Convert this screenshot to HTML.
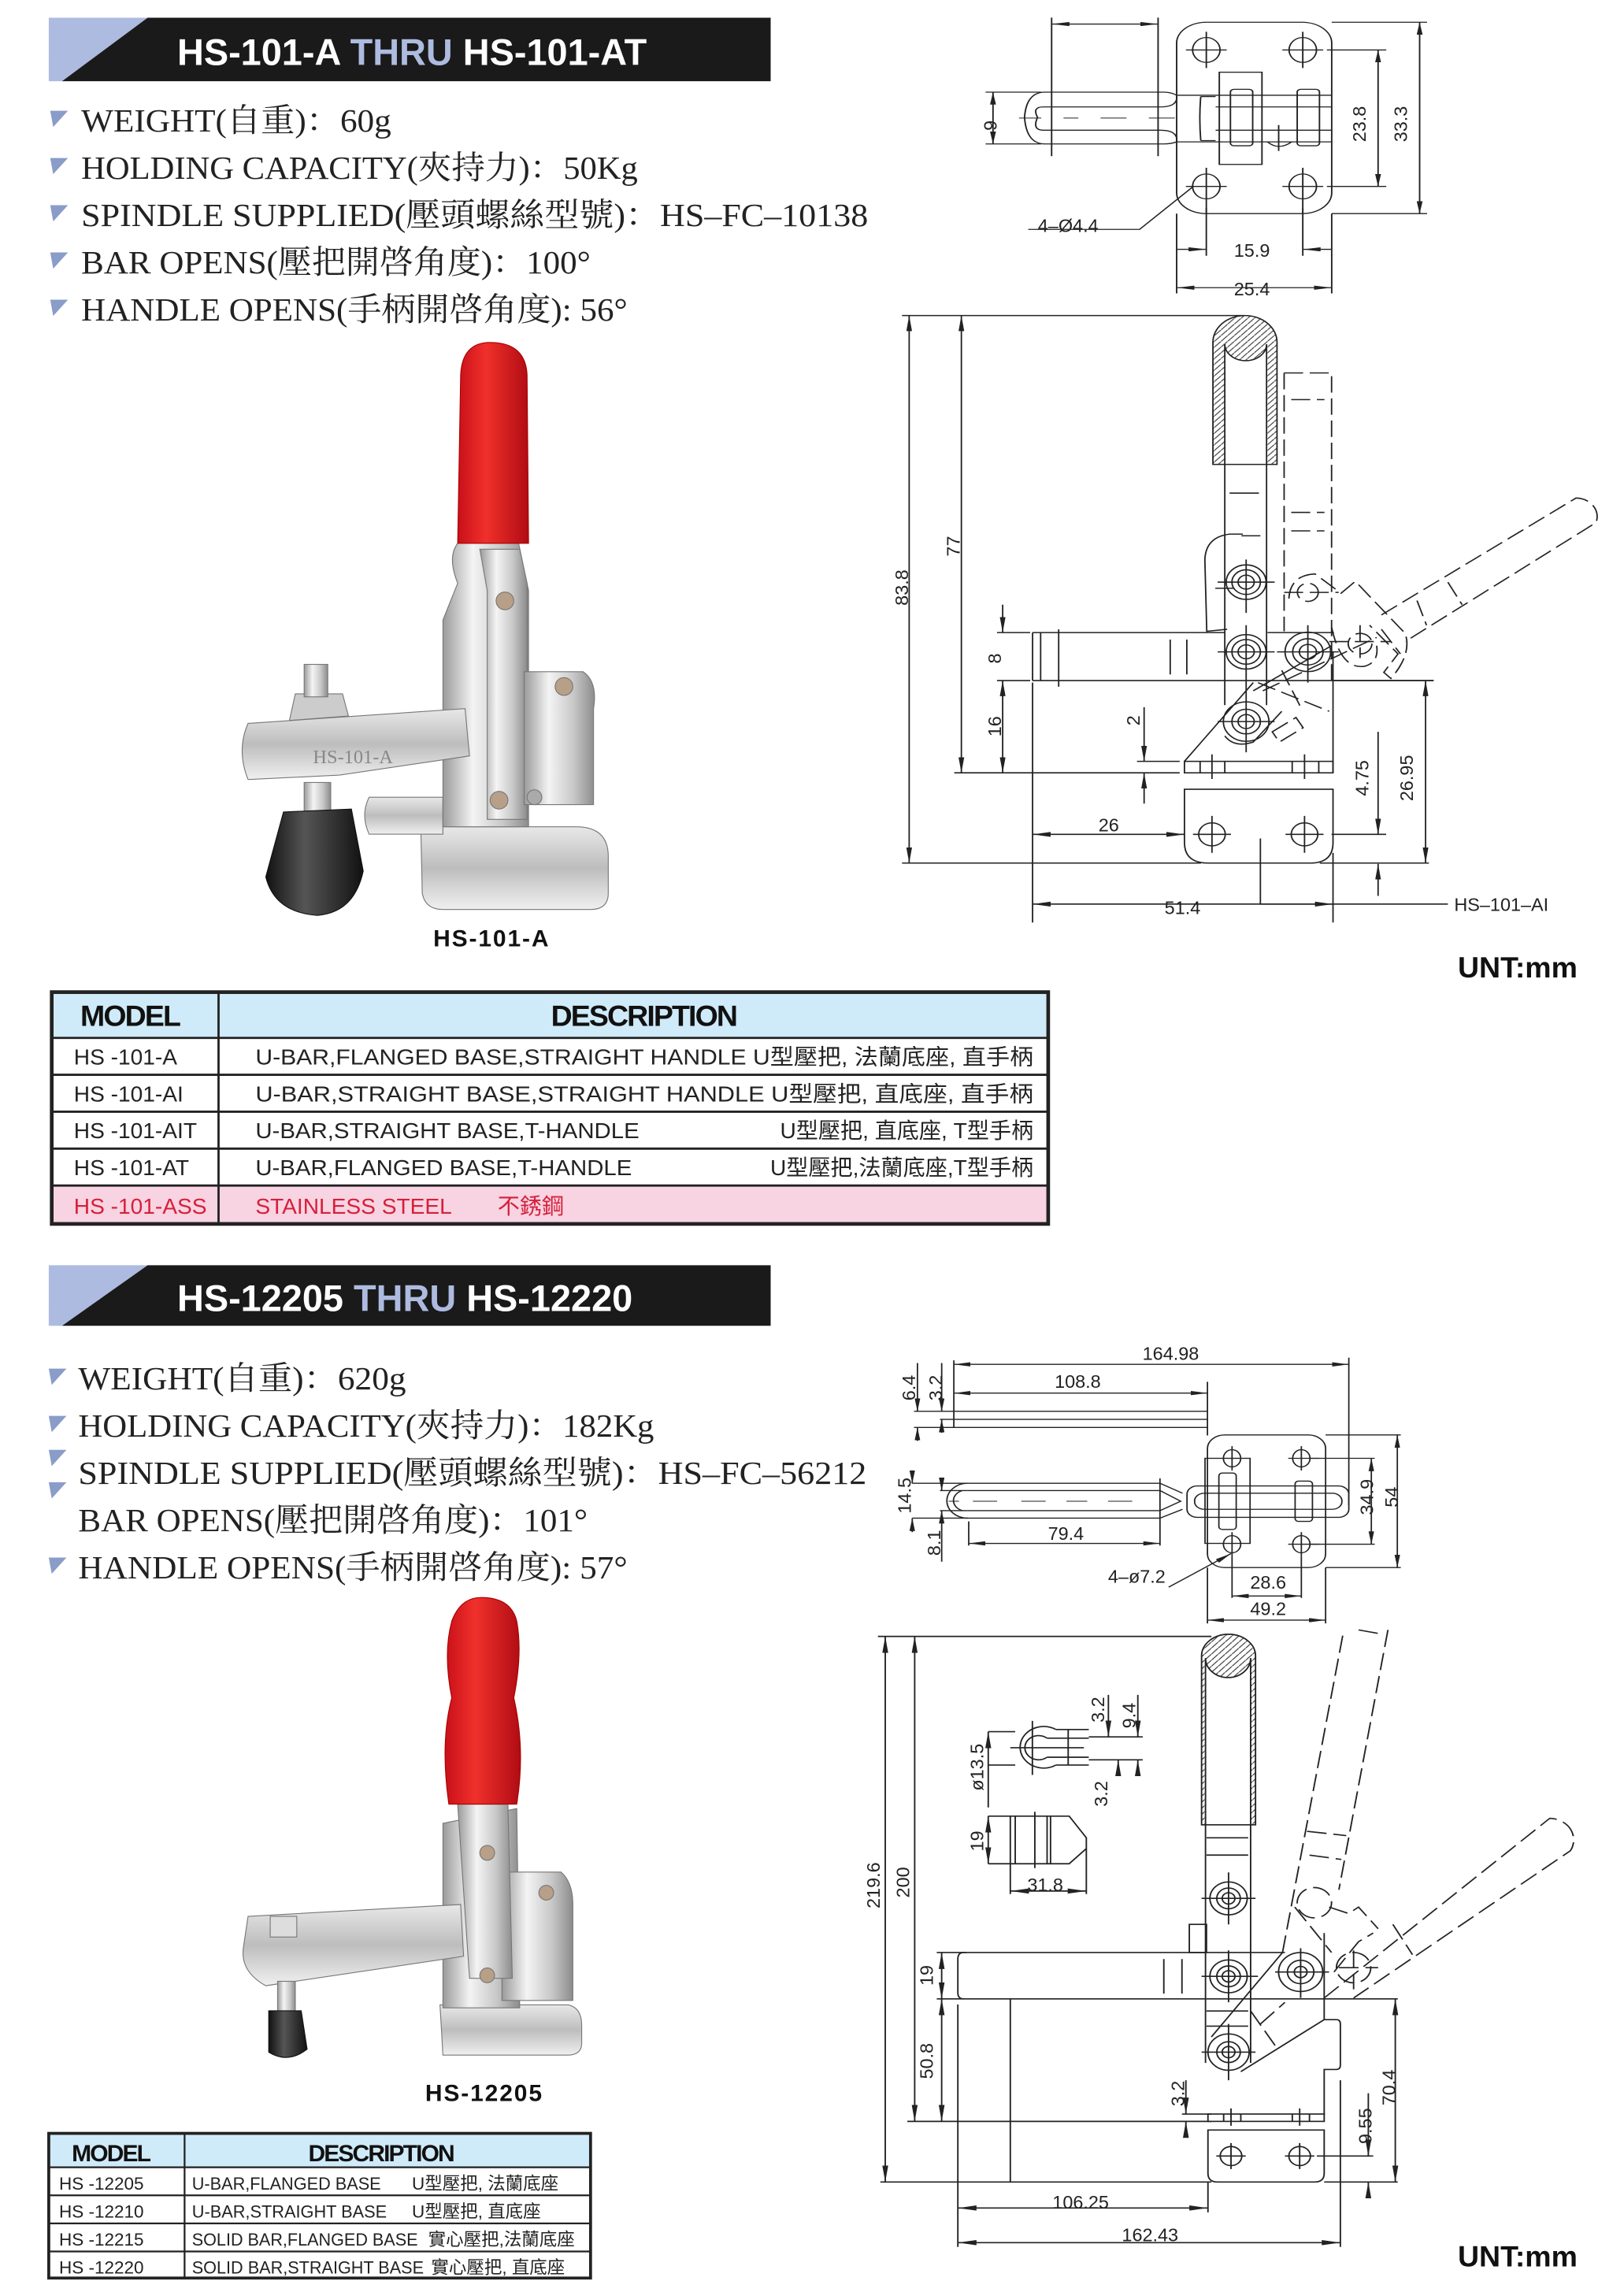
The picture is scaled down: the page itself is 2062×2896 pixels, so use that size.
<!DOCTYPE html>
<html><head><meta charset="utf-8"><style>
html,body{margin:0;padding:0;background:#fff}
svg{display:block}
.sp{font-family:"Liberation Serif","Noto Serif CJK SC",serif;font-size:22px;fill:#222}
.dm{font-family:"Liberation Sans",sans-serif;font-size:12.5px;fill:#222}
.tt{font-family:"Liberation Sans",sans-serif;font-weight:bold;font-size:25px;fill:#fff}
.tb{font-family:"Liberation Sans","Noto Sans CJK TC",sans-serif;font-size:15px;fill:#222}
.tb2{font-family:"Liberation Sans","Noto Sans CJK TC",sans-serif;font-size:12px;fill:#222}
.hd{font-family:"Liberation Sans",sans-serif;font-weight:bold;fill:#111}
</style></head><body>
<svg width="2062" height="2896" viewBox="0 0 1100 1545" xmlns="http://www.w3.org/2000/svg">
<defs>
<marker id="a3" markerUnits="userSpaceOnUse" markerWidth="38" markerHeight="12" refX="38" refY="6" orient="auto-start-reverse"><path d="M0,0 L38,6 L0,12z" fill="#222"/></marker>
<marker id="a5" markerUnits="userSpaceOnUse" markerWidth="48" markerHeight="16" refX="48" refY="8" orient="auto-start-reverse"><path d="M0,0 L48,8 L0,16z" fill="#222"/></marker>
<pattern id="ht" patternUnits="userSpaceOnUse" width="14" height="14"><path d="M0,14 L14,0" stroke="#333" stroke-width="2"/></pattern>
<linearGradient id="sv" x1="0" x2="1"><stop offset="0" stop-color="#9a9a9a"/><stop offset=".35" stop-color="#f4f4f4"/><stop offset=".7" stop-color="#c8c8c8"/><stop offset="1" stop-color="#8c8c8c"/></linearGradient>
<linearGradient id="svv" x1="0" y1="0" x2="0" y2="1"><stop offset="0" stop-color="#e8e8e8"/><stop offset=".5" stop-color="#bdbdbd"/><stop offset="1" stop-color="#f0f0f0"/></linearGradient>
<linearGradient id="rd" x1="0" x2="1"><stop offset="0" stop-color="#c8101a"/><stop offset=".4" stop-color="#f0302a"/><stop offset="1" stop-color="#b00c14"/></linearGradient>
<linearGradient id="bk" x1="0" x2="1"><stop offset="0" stop-color="#111"/><stop offset=".4" stop-color="#555"/><stop offset="1" stop-color="#111"/></linearGradient>
</defs>

<!-- ===== Section 1 title ===== -->
<polygon points="33,12 100,12 42,55 33,55" fill="#aebbe0"/>
<polygon points="100,12 522,12 522,55 42,55" fill="#1a1a1a"/>
<text x="120" y="44" class="tt">HS-101-A <tspan fill="#aebbe0">THRU</tspan> HS-101-AT</text>

<g fill="#8a9cc8">
<polygon points="34,75 46,75 36,86"/><polygon points="34,107 46,107 36,118"/><polygon points="34,139 46,139 36,150"/><polygon points="34,171 46,171 36,182"/><polygon points="34,203 46,203 36,214"/>
</g>
<text class="sp" x="55" y="89" textLength="210" lengthAdjust="spacingAndGlyphs">WEIGHT(自重)：60g</text>
<text class="sp" x="55" y="121" textLength="377" lengthAdjust="spacingAndGlyphs">HOLDING CAPACITY(夾持力)：50Kg</text>
<text class="sp" x="55" y="153" textLength="533" lengthAdjust="spacingAndGlyphs">SPINDLE SUPPLIED(壓頭螺絲型號)：HS–FC–10138</text>
<text class="sp" x="55" y="185" textLength="345" lengthAdjust="spacingAndGlyphs">BAR OPENS(壓把開啓角度)：100°</text>
<text class="sp" x="55" y="217" textLength="370" lengthAdjust="spacingAndGlyphs">HANDLE OPENS(手柄開啓角度): 56°</text>

<!-- Photo 1 -->
<g stroke="#777" stroke-width="0.6">
<path d="M285,560 L390,560 Q412,560 412,580 L412,605 Q412,616 400,616 L300,616 Q288,616 286,605 Z" fill="url(#svv)"/>
<path d="M250,540 L300,540 L300,565 L250,565 Q244,552 250,540Z" fill="url(#svv)"/>
<path d="M310,395 Q300,370 318,362 L350,362 L358,400 L358,560 L300,560 L300,420Z" fill="url(#sv)"/>
<path d="M325,372 L352,372 L357,395 L357,555 L330,555 L330,400Z" fill="url(#sv)"/>
<path d="M355,455 L395,455 Q405,462 402,480 L402,545 L355,545Z" fill="url(#sv)"/>
<path d="M168,490 L315,480 L318,512 L230,525 L168,528 Q160,508 168,490Z" fill="url(#svv)"/>
<path d="M200,470 L232,470 L236,485 L196,488Z" fill="#ccc"/>
<rect x="206" y="450" width="16" height="22" fill="url(#sv)"/>
<rect x="206" y="530" width="18" height="22" fill="url(#sv)"/>
<path d="M192,550 L238,548 L246,590 Q240,618 215,620 Q186,618 180,594Z" fill="url(#bk)" stroke="#111"/>
<circle cx="342" cy="407" r="6" fill="#b89f88"/><circle cx="382" cy="465" r="6" fill="#b89f88"/><circle cx="338" cy="542" r="6" fill="#b89f88"/><circle cx="362" cy="540" r="5" fill="#aaa"/>
<path d="M310,368 L312,254 Q313,232 332,232 Q356,232 357,254 L358,368Z" fill="url(#rd)" stroke="#a00"/>
</g>
<text x="212" y="517" font-family="Liberation Serif,serif" font-size="13" fill="#888">HS-101-A</text>
<text x="333" y="641" class="hd" font-size="16" text-anchor="middle" letter-spacing="1">HS-101-A</text>

<!-- Top view drawing 1 (zoom5 coords) -->
<g transform="matrix(0.2513,0,0,0.1754,632.4,-3)" fill="none" stroke="#222" stroke-width="4">
<rect x="655" y="103" width="418" height="739" rx="80" ry="80"/>
<ellipse cx="735" cy="210" rx="37" ry="48"/><ellipse cx="995" cy="210" rx="37" ry="48"/><ellipse cx="735" cy="737" rx="37" ry="48"/><ellipse cx="995" cy="737" rx="37" ry="48"/>
<path d="M680,210H790M735,140V280M940,210H1050M995,140V280M680,737H790M735,665V845M940,737H1050M995,665V845"/>
<rect x="770" y="296" width="115" height="356"/>
<path d="M655,385H1073M655,565H1073M760,430H1073M760,520H1073"/>
<rect x="800" y="362" width="60" height="218" rx="10"/><rect x="980" y="362" width="60" height="218" rx="10"/>
<path d="M900,565 Q930,600 965,565 M930,500V600"/>
<path d="M655,385 Q660,430 610,430 L295,430 Q265,430 280,470 Q265,520 295,520 L610,520 Q660,520 655,565"/>
<path d="M655,385 Q640,373 620,373 L300,373 Q250,373 245,470 Q250,573 300,573 L620,573 Q640,573 655,565"/>
<path d="M720,390 Q715,470 720,560 M720,390 H760 M720,560 H760"/>
<path d="M230,473H290M350,473H390M450,473H520M580,473H650" stroke-width="3"/>
<path d="M140,373H290M140,573H290M318,85V620M605,85V620"/>
<line x1="160" y1="373" x2="160" y2="573" marker-start="url(#a5)" marker-end="url(#a5)"/>
<line x1="318" y1="110" x2="605" y2="110" marker-start="url(#a5)" marker-end="url(#a5)"/>
<path d="M1060,210H1220M1060,737H1220M1073,103H1330M1073,842H1330"/>
<line x1="1198" y1="210" x2="1198" y2="737" marker-start="url(#a5)" marker-end="url(#a5)"/>
<line x1="1310" y1="103" x2="1310" y2="842" marker-start="url(#a5)" marker-end="url(#a5)"/>
<path d="M735,820V1005M995,820V1005M655,842V1150M1073,842V1150"/>
<line x1="655" y1="980" x2="735" y2="980" marker-end="url(#a5)"/>
<line x1="1073" y1="980" x2="995" y2="980" marker-end="url(#a5)"/>
<line x1="655" y1="1128" x2="1073" y2="1128" marker-start="url(#a5)" marker-end="url(#a5)"/>
<path d="M700,737 L555,903 L255,903"/>
</g>
<text class="dm" transform="translate(675,85) rotate(-90)" text-anchor="middle">9</text>
<text class="dm" transform="translate(925,84) rotate(-90)" text-anchor="middle">23.8</text>
<text class="dm" transform="translate(953,84) rotate(-90)" text-anchor="middle">33.3</text>
<text class="dm" x="703" y="157">4–Ø4.4</text>
<text class="dm" x="848" y="174" text-anchor="middle">15.9</text>
<text class="dm" x="848" y="200" text-anchor="middle">25.4</text>

<!-- Side view drawing 1 (zoom3 coords) -->
<g transform="matrix(0.3215,0,0,0.2778,611,204)" fill="none" stroke="#222" stroke-width="3">
<line x1="15" y1="35" x2="15" y2="1370" marker-start="url(#a3)" marker-end="url(#a3)"/>
<path d="M0,35H720M0,1370H630M880,1370H1110M110,1150H585M200,808H270M200,925H270"/>
<line x1="125" y1="35" x2="125" y2="1150" marker-start="url(#a3)" marker-end="url(#a3)"/>
<line x1="212" y1="740" x2="212" y2="808" marker-end="url(#a3)"/>
<line x1="212" y1="925" x2="212" y2="1150" marker-start="url(#a3)" marker-end="url(#a3)"/>
<path d="M275,808H680M770,808H910M275,925H1120M275,808V925M292,808V925M330,800V940M565,825V910M600,825V910"/>
<path d="M655,398V100A67.5,65 0 0 1 790,100V398ZM680,398V105A44,40 0 0 0 768,105V398Z" fill="url(#ht)" fill-rule="evenodd"/>
<path d="M680,398V985M768,398V985M690,468H752M715,572H755"/>
<path d="M718,568H690Q640,575 638,630L642,805L685,800M660,700H700"/>
<g>
<circle cx="725" cy="685" r="42"/><circle cx="725" cy="685" r="30"/><circle cx="725" cy="685" r="17"/>
<circle cx="725" cy="855" r="42"/><circle cx="725" cy="855" r="30"/><circle cx="725" cy="855" r="17"/>
<circle cx="725" cy="1025" r="48"/><circle cx="725" cy="1025" r="30"/><circle cx="725" cy="1025" r="17"/>
<circle cx="855" cy="855" r="48"/><circle cx="855" cy="855" r="32"/><circle cx="855" cy="855" r="18"/>
<path d="M665,685H785M725,630V760M665,855H785M725,790V960M665,1025H785M725,960V1100M790,855H920M855,790V930"/>
</g>
<g stroke-dasharray="40 14">
<path d="M805,175H905V925M805,175V805M820,240H890M820,515H890M820,560H890"/>
<circle cx="855" cy="710" r="22"/><circle cx="965" cy="835" r="25"/>
<path d="M815,725Q818,668 870,665L925,712L955,683L1060,810Q1075,860 1030,920L1015,905L1045,860L985,790"/>
<path d="M1010,765L1420,480A45,45 0 0 1 1462,540L1060,830M1010,800L1050,860M1085,730L1105,790M1150,685L1180,740M760,950L1000,820M750,930L900,1000M800,900L840,990"/>
<path d="M780,1050L830,1015L845,1040L795,1075Z"/>
<path d="M905,795Q925,900 975,890Q1005,880 1000,840M900,830H1030M965,790V870M805,710H920"/>
</g>
<path d="M595,1122L740,930M740,950L905,840M680,1060Q700,1090 740,1075L800,1000"/>
<rect x="595" y="1122" width="313" height="28"/>
<path d="M628,1122V1150M653,1105V1165M680,1122V1150M822,1122V1150M848,1105V1165M878,1122V1150M908,855V1150"/>
<path d="M595,1190H908V1320Q908,1370 860,1370H645Q595,1370 595,1320Z"/>
<circle cx="653" cy="1300" r="28"/><circle cx="848" cy="1300" r="28"/>
<path d="M613,1300H693M653,1255V1345M808,1300H888M848,1255V1345"/>
<path d="M755,1310V1470H1150M275,930V1515M908,1345V1515M905,1300H1020M910,925H1120M495,1122H585"/>
<line x1="275" y1="1300" x2="595" y2="1300" marker-start="url(#a3)" marker-end="url(#a3)"/>
<line x1="275" y1="1470" x2="908" y2="1470" marker-start="url(#a3)" marker-end="url(#a3)"/>
<line x1="1103" y1="925" x2="1103" y2="1370" marker-start="url(#a3)" marker-end="url(#a3)"/>
<line x1="1003" y1="1050" x2="1003" y2="1300" marker-end="url(#a3)"/>
<line x1="1003" y1="1450" x2="1003" y2="1372" marker-end="url(#a3)"/>
<line x1="510" y1="990" x2="510" y2="1122" marker-end="url(#a3)"/>
<line x1="510" y1="1225" x2="510" y2="1150" marker-end="url(#a3)"/>
</g>
<text class="dm" transform="translate(615,398) rotate(-90)" text-anchor="middle">83.8</text>
<text class="dm" transform="translate(650,370) rotate(-90)" text-anchor="middle">77</text>
<text class="dm" transform="translate(678,446) rotate(-90)" text-anchor="middle">8</text>
<text class="dm" transform="translate(678,492) rotate(-90)" text-anchor="middle">16</text>
<text class="dm" transform="translate(772,488) rotate(-90)" text-anchor="middle">2</text>
<text class="dm" transform="translate(927,527) rotate(-90)" text-anchor="middle">4.75</text>
<text class="dm" transform="translate(957,527) rotate(-90)" text-anchor="middle">26.95</text>
<text class="dm" x="751" y="563" text-anchor="middle">26</text>
<text class="dm" x="801" y="619" text-anchor="middle">51.4</text>
<text class="dm" x="985" y="617">HS–101–AI</text>
<text x="1028" y="662" class="hd" font-size="20" text-anchor="middle">UNT:mm</text>

<!-- Table 1 -->
<rect x="35" y="672" width="675" height="31" fill="#cfeaf8"/>
<rect x="35" y="803" width="675" height="25" fill="#f8d3e2"/>
<g stroke="#222" fill="none">
<rect x="35" y="672" width="675" height="157" stroke-width="2.5"/>
<path d="M35,703H710M35,728H710M35,753H710M35,778H710M35,803H710M148,672V829" stroke-width="1.5"/>
</g>
<text x="88" y="695" class="hd" font-size="20" text-anchor="middle" letter-spacing="-1">MODEL</text>
<text x="436" y="695" class="hd" font-size="20" text-anchor="middle" letter-spacing="-1">DESCRIPTION</text>
<g class="tb">
<text x="50" y="721" class="tb">HS -101-A</text>
<text x="50" y="746" class="tb">HS -101-AI</text>
<text x="50" y="771" class="tb">HS -101-AIT</text>
<text x="50" y="796" class="tb">HS -101-AT</text>
<text x="50" y="822" class="tb" fill="#d5203a" style="fill:#d5203a">HS -101-ASS</text>
<text x="173" y="721" class="tb" textLength="527" lengthAdjust="spacingAndGlyphs">U-BAR,FLANGED BASE,STRAIGHT HANDLE U型壓把, 法蘭底座, 直手柄</text>
<text x="173" y="746" class="tb" textLength="527" lengthAdjust="spacingAndGlyphs">U-BAR,STRAIGHT BASE,STRAIGHT HANDLE U型壓把, 直底座,  直手柄</text>
<text x="173" y="771" class="tb" textLength="260" lengthAdjust="spacingAndGlyphs">U-BAR,STRAIGHT BASE,T-HANDLE</text>
<text x="700" y="771" class="tb" text-anchor="end">U型壓把, 直底座, T型手柄</text>
<text x="173" y="796" class="tb" textLength="255" lengthAdjust="spacingAndGlyphs">U-BAR,FLANGED BASE,T-HANDLE</text>
<text x="700" y="796" class="tb" text-anchor="end">U型壓把,法蘭底座,T型手柄</text>
<text x="173" y="822" class="tb" style="fill:#d5203a">STAINLESS STEEL</text>
<text x="337" y="822" class="tb" style="fill:#d5203a">不銹鋼</text>
</g>

<!-- ===== Section 2 title ===== -->
<polygon points="33,857 100,857 42,898 33,898" fill="#aebbe0"/>
<polygon points="100,857 522,857 522,898 42,898" fill="#1a1a1a"/>
<text x="120" y="888" class="tt">HS-12205 <tspan fill="#aebbe0">THRU</tspan> HS-12220</text>

<g fill="#8a9cc8">
<polygon points="33,927 45,927 35,938"/><polygon points="33,959 45,959 35,970"/><polygon points="33,982 45,982 35,993"/><polygon points="33,1004 45,1004 35,1015"/><polygon points="33,1055 45,1055 35,1066"/>
</g>
<text class="sp" x="53" y="941" textLength="222" lengthAdjust="spacingAndGlyphs">WEIGHT(自重)：620g</text>
<text class="sp" x="53" y="973" textLength="390" lengthAdjust="spacingAndGlyphs">HOLDING CAPACITY(夾持力)：182Kg</text>
<text class="sp" x="53" y="1005" textLength="534" lengthAdjust="spacingAndGlyphs">SPINDLE SUPPLIED(壓頭螺絲型號)：HS–FC–56212</text>
<text class="sp" x="53" y="1037" textLength="345" lengthAdjust="spacingAndGlyphs">BAR OPENS(壓把開啓角度)：101°</text>
<text class="sp" x="53" y="1069" textLength="372" lengthAdjust="spacingAndGlyphs">HANDLE OPENS(手柄開啓角度): 57°</text>

<!-- Photo 2 -->
<g stroke="#777" stroke-width="0.6">
<path d="M298,1358 L385,1358 Q394,1360 394,1372 L394,1384 Q394,1392 384,1392 L300,1392Z" fill="url(#svv)"/>
<path d="M300,1235 L350,1225 L352,1360 L300,1360Z" fill="url(#sv)"/>
<path d="M340,1268 L380,1268 Q388,1275 388,1290 L388,1355 L340,1355Z" fill="url(#sv)"/>
<path d="M168,1298 L312,1290 L314,1325 L180,1345 Q162,1335 165,1318Z" fill="url(#svv)"/>
<rect x="183" y="1298" width="18" height="14" fill="#ddd"/>
<rect x="188" y="1342" width="12" height="22" fill="url(#sv)"/>
<path d="M182,1362 L204,1362 L208,1388 Q195,1398 182,1390Z" fill="url(#bk)" stroke="#111"/>
<path d="M310,1222 L344,1222 L347,1340 L318,1340Z" fill="url(#sv)"/>
<circle cx="330" cy="1255" r="5" fill="#b89f88"/><circle cx="330" cy="1338" r="5" fill="#b89f88"/><circle cx="370" cy="1282" r="5" fill="#b89f88"/>
<path d="M304,1222 Q298,1180 306,1150 Q300,1120 306,1098 Q312,1082 326,1082 Q346,1082 350,1098 Q354,1120 348,1150 Q356,1185 350,1222Z" fill="url(#rd)" stroke="#a00"/>
</g>
<text x="328" y="1423" class="hd" font-size="16" text-anchor="middle" letter-spacing="1">HS-12205</text>

<!-- Top view drawing 2 (zoom6 coords) -->
<g transform="matrix(0.2347,0,0,0.1818,605,910.5)" fill="none" stroke="#222" stroke-width="4">
<line x1="175" y1="75" x2="1315" y2="75" marker-start="url(#a5)" marker-end="url(#a5)"/>
<line x1="175" y1="182" x2="907" y2="182" marker-start="url(#a5)" marker-end="url(#a5)"/>
<path d="M175,60V310M1315,50V600M907,140V340M60,250H907M135,280H907M60,310H907"/>
<line x1="70" y1="70" x2="70" y2="250" marker-end="url(#a5)"/>
<line x1="70" y1="360" x2="70" y2="310" marker-end="url(#a5)"/>
<line x1="140" y1="70" x2="140" y2="250" marker-end="url(#a5)"/>
<line x1="140" y1="330" x2="140" y2="280" marker-end="url(#a5)"/>
<rect x="907" y="338" width="341" height="494" rx="50" ry="50"/>
<ellipse cx="978" cy="425" rx="25" ry="32"/><ellipse cx="1178" cy="425" rx="25" ry="32"/><ellipse cx="978" cy="745" rx="25" ry="32"/><ellipse cx="1178" cy="745" rx="25" ry="32"/>
<path d="M978,380V470M978,700V790M1140,425H1230M1178,380V470M1140,745H1230M1178,700V790"/>
<rect x="900" y="425" width="130" height="317"/>
<rect x="940" y="480" width="50" height="210" rx="10"/><rect x="1160" y="510" width="50" height="150" rx="10"/>
<rect x="848" y="528" width="467" height="117" rx="30"/><rect x="870" y="555" width="425" height="60" rx="28"/>
<path d="M215,518H770L835,555M215,648H770L835,615M215,545H770L830,585L770,620H215M215,518A60,65 0 0 0 215,648M200,545A40,40 0 0 0 200,620"/>
<path d="M230,585H300M370,585H440M500,585H560M620,585H690M160,585H190" stroke-width="3"/>
<path d="M55,518H215M55,648H215M135,545H215M135,620H215M218,660V750M770,500V750"/>
<line x1="55" y1="470" x2="55" y2="518" marker-end="url(#a5)"/>
<line x1="55" y1="700" x2="55" y2="648" marker-end="url(#a5)"/>
<line x1="140" y1="500" x2="140" y2="545" marker-end="url(#a5)"/>
<line x1="140" y1="810" x2="140" y2="620" marker-end="url(#a5)"/>
<line x1="218" y1="742" x2="770" y2="742" marker-start="url(#a5)" marker-end="url(#a5)"/>
<path d="M1248,338H1465M1248,832H1465M1200,425H1390M1200,745H1390M978,790V945M1178,790V945M907,832V1040M1248,832V1040"/>
<line x1="1380" y1="425" x2="1380" y2="745" marker-start="url(#a5)" marker-end="url(#a5)"/>
<line x1="1455" y1="338" x2="1455" y2="832" marker-start="url(#a5)" marker-end="url(#a5)"/>
<line x1="978" y1="938" x2="1178" y2="938" marker-start="url(#a5)" marker-end="url(#a5)"/>
<line x1="907" y1="1028" x2="1248" y2="1028" marker-start="url(#a5)" marker-end="url(#a5)"/>
<line x1="795" y1="905" x2="975" y2="780" marker-end="url(#a5)"/>
</g>
<text class="dm" x="793" y="921" text-anchor="middle">164.98</text>
<text class="dm" x="730" y="940" text-anchor="middle">108.8</text>
<text class="dm" transform="translate(620,940) rotate(-90)" text-anchor="middle">6.4</text>
<text class="dm" transform="translate(638,940) rotate(-90)" text-anchor="middle">3.2</text>
<text class="dm" transform="translate(617,1013) rotate(-90)" text-anchor="middle">14.5</text>
<text class="dm" transform="translate(637,1045) rotate(-90)" text-anchor="middle">8.1</text>
<text class="dm" x="722" y="1043" text-anchor="middle">79.4</text>
<text class="dm" x="770" y="1072" text-anchor="middle">4–ø7.2</text>
<text class="dm" x="859" y="1076" text-anchor="middle">28.6</text>
<text class="dm" x="859" y="1094" text-anchor="middle">49.2</text>
<text class="dm" transform="translate(930,1014) rotate(-90)" text-anchor="middle">34.9</text>
<text class="dm" transform="translate(947,1014) rotate(-90)" text-anchor="middle">54</text>

<!-- Side view drawing 2 (zoom4 coords) -->
<g transform="matrix(0.3322,0,0,0.2933,588,1104)" fill="none" stroke="#222" stroke-width="3">
<line x1="35" y1="15" x2="35" y2="1275" marker-start="url(#a3)" marker-end="url(#a3)"/>
<line x1="95" y1="15" x2="95" y2="1135" marker-start="url(#a3)" marker-end="url(#a3)"/>
<line x1="150" y1="745" x2="150" y2="852" marker-start="url(#a3)" marker-end="url(#a3)"/>
<line x1="150" y1="852" x2="150" y2="1135" marker-start="url(#a3)" marker-end="url(#a3)"/>
<path d="M20,15H700M25,1275H700M930,1275H1080M80,1135H700M140,745H200M140,852H1080M183,865V1425M290,852V1275M693,1275V1345M963,1040V1425"/>
<line x1="183" y1="1335" x2="693" y2="1335" marker-start="url(#a3)" marker-end="url(#a3)"/>
<line x1="183" y1="1415" x2="963" y2="1415" marker-start="url(#a3)" marker-end="url(#a3)"/>
<path d="M195,745H850M195,745Q183,745 183,760V838Q183,852 195,852M603,760V840M640,760V840"/>
<path d="M680,450V60A55,50 0 0 1 790,60V450ZM688,450V65A46,45 0 0 0 780,65V450Z" fill="url(#ht)" fill-rule="evenodd"/>
<path d="M688,450V1000M780,450V1000M690,480H775M690,520H775M690,880H775M690,915H775"/>
<rect x="655" y="680" width="35" height="65"/>
<circle cx="735" cy="620" r="38"/><circle cx="735" cy="620" r="24"/><circle cx="735" cy="620" r="13"/>
<circle cx="735" cy="800" r="38"/><circle cx="735" cy="800" r="24"/><circle cx="735" cy="800" r="13"/>
<circle cx="735" cy="975" r="42"/><circle cx="735" cy="975" r="24"/><circle cx="735" cy="975" r="13"/>
<circle cx="882" cy="790" r="45"/><circle cx="882" cy="790" r="27"/><circle cx="882" cy="790" r="13"/>
<path d="M680,620H790M735,560V680M680,800H795M735,740V860M680,975H790M735,910V1040M830,790H940M882,735V850"/>
<path d="M700,940L845,745M760,1020L930,900M930,700V900H955Q963,900 963,910V1005Q963,1015 955,1015H930V1120"/>
<rect x="693" y="1118" width="237" height="17"/>
<path d="M725,1118V1135M740,1105V1145M760,1118V1135M865,1118V1135M880,1105V1145M900,1118V1135"/>
<path d="M693,1155H930V1255Q930,1275 910,1275H713Q693,1275 693,1255Z"/>
<circle cx="740" cy="1215" r="22"/><circle cx="880" cy="1215" r="22"/>
<path d="M710,1215H770M740,1185V1245M850,1215H910M880,1185V1245M915,1215H1030M640,1118H700"/>
<line x1="648" y1="1040" x2="648" y2="1118" marker-end="url(#a3)"/>
<line x1="648" y1="1165" x2="648" y2="1135" marker-end="url(#a3)"/>
<line x1="1020" y1="1070" x2="1020" y2="1215" marker-end="url(#a3)"/>
<line x1="1020" y1="1305" x2="1020" y2="1275" marker-end="url(#a3)"/>
<line x1="1075" y1="852" x2="1075" y2="1275" marker-start="url(#a3)" marker-end="url(#a3)"/>
<g stroke-dasharray="40 14">
<path d="M845,745L970,0M1060,0L960,600M895,465L975,475M900,520L965,530M1000,0L1050,10"/>
<circle cx="910" cy="630" r="35"/><circle cx="990" cy="780" r="35"/>
<path d="M870,640L945,745M940,640L980,655L1000,640L1040,690M930,850L1390,435A50,50 0 0 1 1432,510L990,850M950,790L1000,720L1030,700M1070,680L1110,750M780,880L830,960M800,910L850,860M960,780H1040M990,740V830"/>
</g>
<!-- detail keyhole -->
<path d="M383,230H450M383,312H450M383,230A48,48 0 1 0 383,312M365,250H450M365,294H450M365,250A28,28 0 1 0 365,294"/>
<path d="M408,230V312M335,210V335M290,272H440"/>
<path d="M245,235H300M245,312H300M450,247H560M450,300H560"/>
<line x1="245" y1="235" x2="245" y2="410" marker-start="url(#a3)"/>
<line x1="490" y1="150" x2="490" y2="247" marker-end="url(#a3)"/>
<line x1="510" y1="330" x2="510" y2="300" marker-end="url(#a3)"/>
<line x1="550" y1="150" x2="550" y2="247" marker-end="url(#a3)"/>
<line x1="550" y1="330" x2="550" y2="300" marker-end="url(#a3)"/>
<path d="M245,430H410L445,480V505L410,540H245M290,430V540M300,430V540M340,420V550M365,430V540M372,430V540M290,540V610M445,505V610"/>
<line x1="245" y1="430" x2="245" y2="540" marker-start="url(#a3)" marker-end="url(#a3)"/>
<line x1="290" y1="603" x2="445" y2="603" marker-start="url(#a3)" marker-end="url(#a3)"/>
</g>
<text class="dm" transform="translate(596,1277) rotate(-90)" text-anchor="middle">219.6</text>
<text class="dm" transform="translate(616,1275) rotate(-90)" text-anchor="middle">200</text>
<text class="dm" transform="translate(748,1158) rotate(-90)" text-anchor="middle">3.2</text>
<text class="dm" transform="translate(769,1162) rotate(-90)" text-anchor="middle">9.4</text>
<text class="dm" transform="translate(666,1197) rotate(-90)" text-anchor="middle">ø13.5</text>
<text class="dm" transform="translate(750,1215) rotate(-90)" text-anchor="middle">3.2</text>
<text class="dm" transform="translate(666,1247) rotate(-90)" text-anchor="middle">19</text>
<text class="dm" x="708" y="1281" text-anchor="middle">31.8</text>
<text class="dm" transform="translate(632,1338) rotate(-90)" text-anchor="middle">19</text>
<text class="dm" transform="translate(632,1396) rotate(-90)" text-anchor="middle">50.8</text>
<text class="dm" transform="translate(802,1418) rotate(-90)" text-anchor="middle">3.2</text>
<text class="dm" transform="translate(945,1414) rotate(-90)" text-anchor="middle">70.4</text>
<text class="dm" transform="translate(929,1440) rotate(-90)" text-anchor="middle">9.55</text>
<text class="dm" x="732" y="1496" text-anchor="middle">106.25</text>
<text class="dm" x="779" y="1518" text-anchor="middle">162.43</text>
<text x="1028" y="1535" class="hd" font-size="20" text-anchor="middle">UNT:mm</text>

<!-- Table 2 -->
<rect x="33" y="1445" width="367" height="23" fill="#cfeaf8"/>
<g stroke="#222" fill="none">
<rect x="33" y="1445" width="367" height="98" stroke-width="2"/>
<path d="M33,1468H400M33,1487H400M33,1506H400M33,1525H400M125,1445V1543" stroke-width="1.2"/>
</g>
<text x="75" y="1464" class="hd" font-size="16" text-anchor="middle" letter-spacing="-1">MODEL</text>
<text x="258" y="1464" class="hd" font-size="16" text-anchor="middle" letter-spacing="-1">DESCRIPTION</text>
<text x="40" y="1483" class="tb2">HS -12205</text>
<text x="40" y="1502" class="tb2">HS -12210</text>
<text x="40" y="1521" class="tb2">HS -12215</text>
<text x="40" y="1540" class="tb2">HS -12220</text>
<text x="130" y="1483" class="tb2" textLength="128" lengthAdjust="spacingAndGlyphs">U-BAR,FLANGED BASE</text>
<text x="279" y="1483" class="tb2">U型壓把, 法蘭底座</text>
<text x="130" y="1502" class="tb2" textLength="132" lengthAdjust="spacingAndGlyphs">U-BAR,STRAIGHT BASE</text>
<text x="279" y="1502" class="tb2">U型壓把, 直底座</text>
<text x="130" y="1521" class="tb2" textLength="153" lengthAdjust="spacingAndGlyphs">SOLID BAR,FLANGED BASE</text>
<text x="290" y="1521" class="tb2">實心壓把,法蘭底座</text>
<text x="130" y="1540" class="tb2" textLength="157" lengthAdjust="spacingAndGlyphs">SOLID BAR,STRAIGHT BASE</text>
<text x="292" y="1540" class="tb2">實心壓把, 直底座</text>
</svg>
</body></html>
